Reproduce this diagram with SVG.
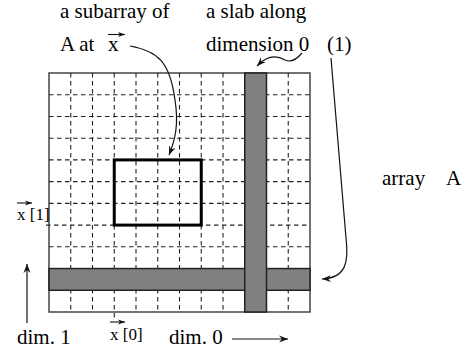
<svg xmlns="http://www.w3.org/2000/svg" width="470" height="353" viewBox="0 0 470 353">
<style>
.t{font-family:'Liberation Serif','DejaVu Serif',serif;font-size:21px;fill:#000}
.sm{font-size:17px}
.grid{stroke:#222;stroke-width:1.1;stroke-dasharray:4.5 3.5;fill:none}
.slab{fill:#808080;stroke:#222;stroke-width:1.5}
.conn{fill:none;stroke:#111;stroke-width:1.2}
.vec{stroke:#111;stroke-width:1.1}
</style>
<defs>
<marker id="ah" markerWidth="10" markerHeight="8" refX="9" refY="4" orient="auto" markerUnits="userSpaceOnUse">
<path d="M0,0.5 L9,4 L0,7.5 L3,4 z" fill="#111"/>
</marker>
<marker id="ahs" markerWidth="8" markerHeight="6" refX="7" refY="3" orient="auto" markerUnits="userSpaceOnUse">
<path d="M0,0.5 L7,3 L0,5.5 L2,3 z" fill="#111"/>
</marker>
</defs>

<g id="array">
<rect x="49" y="73" width="261" height="239" fill="#fff" stroke="#444" stroke-width="1.5"/>
<g class="grid">
<path d="M70.75,73V312M92.5,73V312M114.25,73V318M136,73V312M157.75,73V312M179.5,73V312M201.25,73V312M223,73V312M288.25,73V312"/>
<path d="M49,94.73H310M49,116.45H310M49,138.18H310M49,159.91H310M49,181.64H310M49,203.36H310M46,225.09H310M49,246.82H310M49,290.27H310"/>
</g>
</g>
<g id="slab-dim1">
<rect class="slab" x="49" y="268.55" width="261" height="21.72"/>
</g>
<g id="slab-dim0">
<rect class="slab" x="244.75" y="73" width="21.75" height="239"/>
</g>
<g id="subarray">
<rect x="114.25" y="159.91" width="87" height="65.18" fill="none" stroke="#000" stroke-width="3"/>
</g>

<g id="labels">
<text class="t" x="60" y="18">a subarray of</text>
<text class="t" x="60" y="51">A at</text>
<text class="t" x="108" y="51">x</text>
<line class="vec" x1="108" y1="34.5" x2="125" y2="34.5" marker-end="url(#ahs)"/>
<text class="t" x="206" y="18">a slab along</text>
<text class="t" x="206" y="51">dimension 0</text>
<text class="t" x="327" y="51">(1)</text>
<text class="t" x="382" y="185">array</text>
<text class="t" x="446" y="185">A</text>
<text class="t sm" x="17" y="220">x [1]</text>
<line class="vec" x1="17" y1="203" x2="32" y2="203" marker-end="url(#ahs)"/>
<text class="t sm" x="110" y="340">x [0]</text>
<line class="vec" x1="110" y1="322" x2="125" y2="322" marker-end="url(#ahs)"/>
<text class="t" x="17" y="344">dim. 1</text>
<text class="t" x="169" y="344">dim. 0</text>
</g>

<g id="connectors">
<path class="conn" d="M130,46 C158,51 170,62 175,100 C179,125 175,140 169,155" marker-end="url(#ah)"/>
<path class="conn" d="M302,53 C296,60 291,63 285,60 C278,56 272,56 266,59 C262,61 260,63 257,66" marker-end="url(#ah)"/>
<path class="conn" d="M331,58 L346,238 C349,262 346,278 322,279" marker-end="url(#ah)"/>
<line class="conn" x1="27" y1="323" x2="27" y2="264" marker-end="url(#ah)"/>
<line class="conn" x1="232" y1="339" x2="288" y2="339" marker-end="url(#ah)"/>
</g>
</svg>
